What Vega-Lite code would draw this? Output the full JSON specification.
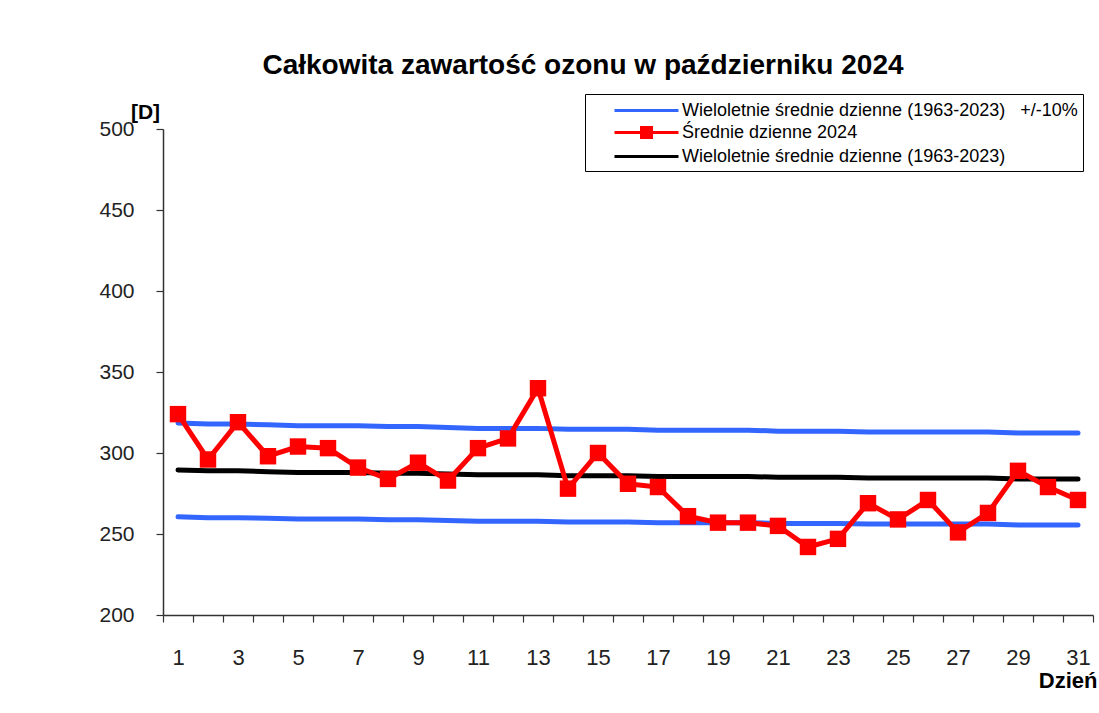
{
  "$schema": "https://vega.github.io/schema/vega-lite/v6.json",
  "width": 930,
  "height": 486,
  "autosize": "none",
  "padding": {"left": 163, "top": 129, "right": 6, "bottom": 98},
  "background": "white",
  "config": {"view": {"stroke": null}, "font": "Liberation Sans"},
  "title": {
    "text": "Całkowita zawartość ozonu w październiku 2024",
    "font": "Liberation Sans",
    "fontSize": 28,
    "fontWeight": "bold",
    "color": "black",
    "anchor": "middle",
    "frame": "group",
    "dx": -45,
    "baseline": "alphabetic",
    "offset": -8
  },
  "data": {
    "values": [
      {"day": 1, "obs": 324, "mean": 289.5, "upper": 318.5, "lower": 260.6},
      {"day": 2, "obs": 296, "mean": 289, "upper": 317.9, "lower": 260.1},
      {"day": 3, "obs": 319, "mean": 289, "upper": 317.9, "lower": 260.1},
      {"day": 4, "obs": 298, "mean": 288.5, "upper": 317.4, "lower": 259.7},
      {"day": 5, "obs": 304, "mean": 288, "upper": 316.8, "lower": 259.2},
      {"day": 6, "obs": 303, "mean": 288, "upper": 316.8, "lower": 259.2},
      {"day": 7, "obs": 291, "mean": 288, "upper": 316.8, "lower": 259.2},
      {"day": 8, "obs": 284, "mean": 287.5, "upper": 316.3, "lower": 258.8},
      {"day": 9, "obs": 294, "mean": 287.5, "upper": 316.3, "lower": 258.8},
      {"day": 10, "obs": 283, "mean": 287, "upper": 315.7, "lower": 258.3},
      {"day": 11, "obs": 303, "mean": 286.5, "upper": 315.2, "lower": 257.9},
      {"day": 12, "obs": 309, "mean": 286.5, "upper": 315.2, "lower": 257.9},
      {"day": 13, "obs": 340, "mean": 286.5, "upper": 315.2, "lower": 257.9},
      {"day": 14, "obs": 278, "mean": 286, "upper": 314.6, "lower": 257.4},
      {"day": 15, "obs": 300, "mean": 286, "upper": 314.6, "lower": 257.4},
      {"day": 16, "obs": 281, "mean": 286, "upper": 314.6, "lower": 257.4},
      {"day": 17, "obs": 279, "mean": 285.5, "upper": 314.1, "lower": 257.0},
      {"day": 18, "obs": 261, "mean": 285.5, "upper": 314.1, "lower": 257.0},
      {"day": 19, "obs": 257, "mean": 285.5, "upper": 314.1, "lower": 257.0},
      {"day": 20, "obs": 257, "mean": 285.5, "upper": 314.1, "lower": 257.0},
      {"day": 21, "obs": 255, "mean": 285, "upper": 313.5, "lower": 256.5},
      {"day": 22, "obs": 242, "mean": 285, "upper": 313.5, "lower": 256.5},
      {"day": 23, "obs": 247, "mean": 285, "upper": 313.5, "lower": 256.5},
      {"day": 24, "obs": 269, "mean": 284.5, "upper": 313.0, "lower": 256.1},
      {"day": 25, "obs": 259, "mean": 284.5, "upper": 313.0, "lower": 256.1},
      {"day": 26, "obs": 271, "mean": 284.5, "upper": 313.0, "lower": 256.1},
      {"day": 27, "obs": 251, "mean": 284.5, "upper": 313.0, "lower": 256.1},
      {"day": 28, "obs": 263, "mean": 284.5, "upper": 313.0, "lower": 256.1},
      {"day": 29, "obs": 289, "mean": 284, "upper": 312.4, "lower": 255.6},
      {"day": 30, "obs": 279, "mean": 284, "upper": 312.4, "lower": 255.6},
      {"day": 31, "obs": 271, "mean": 284, "upper": 312.4, "lower": 255.6}
    ]
  },
  "encoding": {
    "x": {
      "field": "day",
      "type": "ordinal",
      "scale": {"type": "band", "paddingInner": 0, "paddingOuter": 0},
      "axis": {
        "title": "Dzień",
        "titleFont": "Liberation Sans",
        "titleFontSize": 22,
        "titleFontWeight": "bold",
        "titleColor": "black",
        "titleAnchor": "end",
        "titleAlign": "right",
        "titleBaseline": "middle",
        "titleX": 934,
        "titleY": 65,
        "labelAngle": 0,
        "labelFont": "Liberation Sans",
        "labelFontSize": 22,
        "labelColor": "#222222",
        "labelBaseline": "middle",
        "labelPadding": 35,
        "labelOverlap": false,
        "labelExpr": "datum.value % 2 === 1 ? datum.label : ''",
        "tickBand": "extent",
        "tickSize": 7,
        "tickColor": "#333333",
        "tickWidth": 1.2,
        "domainColor": "#333333",
        "domainWidth": 1.5,
        "grid": false
      }
    }
  },
  "layer": [
    {
      "mark": {"type": "line", "strokeWidth": 5, "strokeCap": "round"},
      "encoding": {
        "y": {
          "field": "upper",
          "type": "quantitative",
          "title": "[D]",
          "scale": {"domain": [200, 500], "nice": false, "zero": false},
          "axis": {
            "values": [200, 250, 300, 350, 400, 450, 500],
            "titleFont": "Liberation Sans",
            "titleFontSize": 21,
            "titleFontWeight": "bold",
            "titleColor": "black",
            "titleAngle": 0,
            "titleAlign": "center",
            "titleBaseline": "middle",
            "titleX": -18,
            "titleY": -17,
            "labelFont": "Liberation Sans",
            "labelFontSize": 21,
            "labelColor": "#222222",
            "labelPadding": 22,
            "tickSize": 7,
            "tickColor": "#333333",
            "tickWidth": 1.2,
            "domainColor": "#333333",
            "domainWidth": 1.5,
            "grid": false
          }
        },
        "color": {
          "datum": "Wieloletnie średnie dzienne (1963-2023)\u00a0\u00a0\u00a0+/-10%",
          "type": "nominal",
          "scale": {
            "domain": ["Wieloletnie średnie dzienne (1963-2023)\u00a0\u00a0\u00a0+/-10%", "Średnie dzienne 2024", "Wieloletnie średnie dzienne (1963-2023)"],
            "range": ["#3366ff", "#ff0000", "#000000"]
          },
          "legend": {
            "orient": "none",
            "legendX": 422,
            "legendY": -35,
            "title": null,
            "strokeColor": "black",
            "fillColor": "white",
            "padding": 5,
            "labelFont": "Liberation Sans",
            "labelFontSize": 18,
            "labelColor": "black",
            "labelLimit": 700,
            "labelOffset": 46,
            "symbolSize": 400,
            "symbolStrokeWidth": 3,
            "symbolOffset": 23,
            "rowPadding": 1,
            "encode": {
              "symbols": {
                "update": {
                  "shape": [
                    {"test": "datum.value === 'Średnie dzienne 2024'", "value": "M-1,0H5.4M1.7,-0.5H2.7V0.5H1.7Z"},
                    {"value": "M-1,0H5.4"}
                  ],
                  "fill": [
                    {"test": "datum.value === 'Średnie dzienne 2024'", "value": "#ff0000"},
                    {"value": "transparent"}
                  ]
                }
              }
            }
          }
        }
      }
    },
    {
      "mark": {"type": "line", "strokeWidth": 5, "strokeCap": "round"},
      "encoding": {
        "y": {"field": "lower", "type": "quantitative", "title": "[D]"},
        "color": {"datum": "Wieloletnie średnie dzienne (1963-2023)\u00a0\u00a0\u00a0+/-10%", "type": "nominal"}
      }
    },
    {
      "mark": {"type": "line", "strokeWidth": 5, "strokeCap": "round"},
      "encoding": {
        "y": {"field": "mean", "type": "quantitative", "title": "[D]"},
        "color": {"datum": "Wieloletnie średnie dzienne (1963-2023)", "type": "nominal"}
      }
    },
    {
      "mark": {"type": "line", "strokeWidth": 5, "point": {"shape": "square", "size": 270, "filled": true, "opacity": 1}},
      "encoding": {
        "y": {"field": "obs", "type": "quantitative", "title": "[D]"},
        "color": {"datum": "Średnie dzienne 2024", "type": "nominal"}
      }
    }
  ]
}
